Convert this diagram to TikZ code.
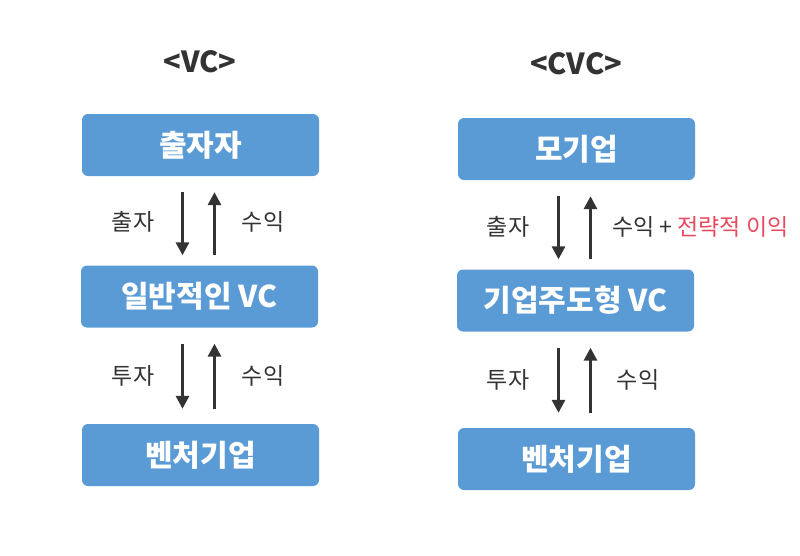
\documentclass[tikz,border=0pt]{standalone}
\usepackage{fontspec}
\setmainfont{Noto Sans CJK KR}
\usetikzlibrary{arrows.meta}
\definecolor{boxblue}{HTML}{5B9BD5}
\definecolor{txtgray}{HTML}{333333}
\definecolor{accred}{HTML}{E84A5F}
\tikzset{
  blk/.style={fill=boxblue, draw=none, rounded corners=6pt, minimum width=237pt, minimum height=62pt,
    text=white, font=\fontsize{30}{36}\selectfont\bfseries, inner sep=0pt},
  ttl/.style={text=txtgray, font=\fontsize{29}{35}\selectfont\bfseries, inner sep=0pt},
  lbl/.style={text=txtgray, font=\fontsize{23}{28}\selectfont, inner sep=0pt},
  arr/.style={draw=txtgray, line width=3pt, -{Triangle[length=13pt,width=13pt]}},
}
\begin{document}
\begin{tikzpicture}[x=1pt,y=-1pt]
\useasboundingbox (0,0) rectangle (800,555);
% left column
\node[ttl] (t1) at (200,62) {<VC>};
\node[blk] (a1) at (200.5,145) {출자자};
\node[blk] (b1) at (199.5,296.5) {일반적인 VC};
\node[blk] (c1) at (200.5,455) {벤처기업};
\draw[arr, shorten <=16pt, shorten >=10pt] ([xshift=-18pt]a1.south) -- ([xshift=-18pt,yshift=0pt]a1.south |- b1.north);
\draw[arr, shorten <=10pt, shorten >=16pt] ([xshift=14pt]a1.south |- b1.north) -- ([xshift=14pt]a1.south);
\draw[arr, shorten <=16pt, shorten >=15pt] ([xshift=-18pt]a1.south |- b1.south) -- ([xshift=-18pt]c1.north);
\draw[arr, shorten <=15pt, shorten >=16pt] ([xshift=14pt]c1.north) -- ([xshift=14pt]a1.south |- b1.south);
\node[lbl] (l1) at (133,222) {출자};
\node[lbl] (l2) at (263,222) {수익};
\node[lbl] (l3) at (133,376) {투자};
\node[lbl] (l4) at (263,376) {수익};
% right column
\node[ttl] (t2) at (576,64) {<CVC>};
\node[blk] (a2) at (576.5,149) {모기업};
\node[blk] (b2) at (575.5,300.5) {기업주도형 VC};
\node[blk] (c2) at (576.5,459) {벤처기업};
\draw[arr, shorten <=16pt, shorten >=10pt] ([xshift=-18pt]a2.south) -- ([xshift=-18pt]a2.south |- b2.north);
\draw[arr, shorten <=10pt, shorten >=16pt] ([xshift=14pt]a2.south |- b2.north) -- ([xshift=14pt]a2.south);
\draw[arr, shorten <=16pt, shorten >=15pt] ([xshift=-18pt]a2.south |- b2.south) -- ([xshift=-18pt]c2.north);
\draw[arr, shorten <=15pt, shorten >=16pt] ([xshift=14pt]c2.north) -- ([xshift=14pt]a2.south |- b2.south);
\node[lbl] (r1) at (508,227) {출자};
\node[lbl, anchor=west] (r2) at (612,227) {수익 + \textcolor{accred}{전략적 이익}};
\node[lbl] (r3) at (508,380) {투자};
\node[lbl] (r4) at (638,380) {수익};
\end{tikzpicture}
\end{document}
